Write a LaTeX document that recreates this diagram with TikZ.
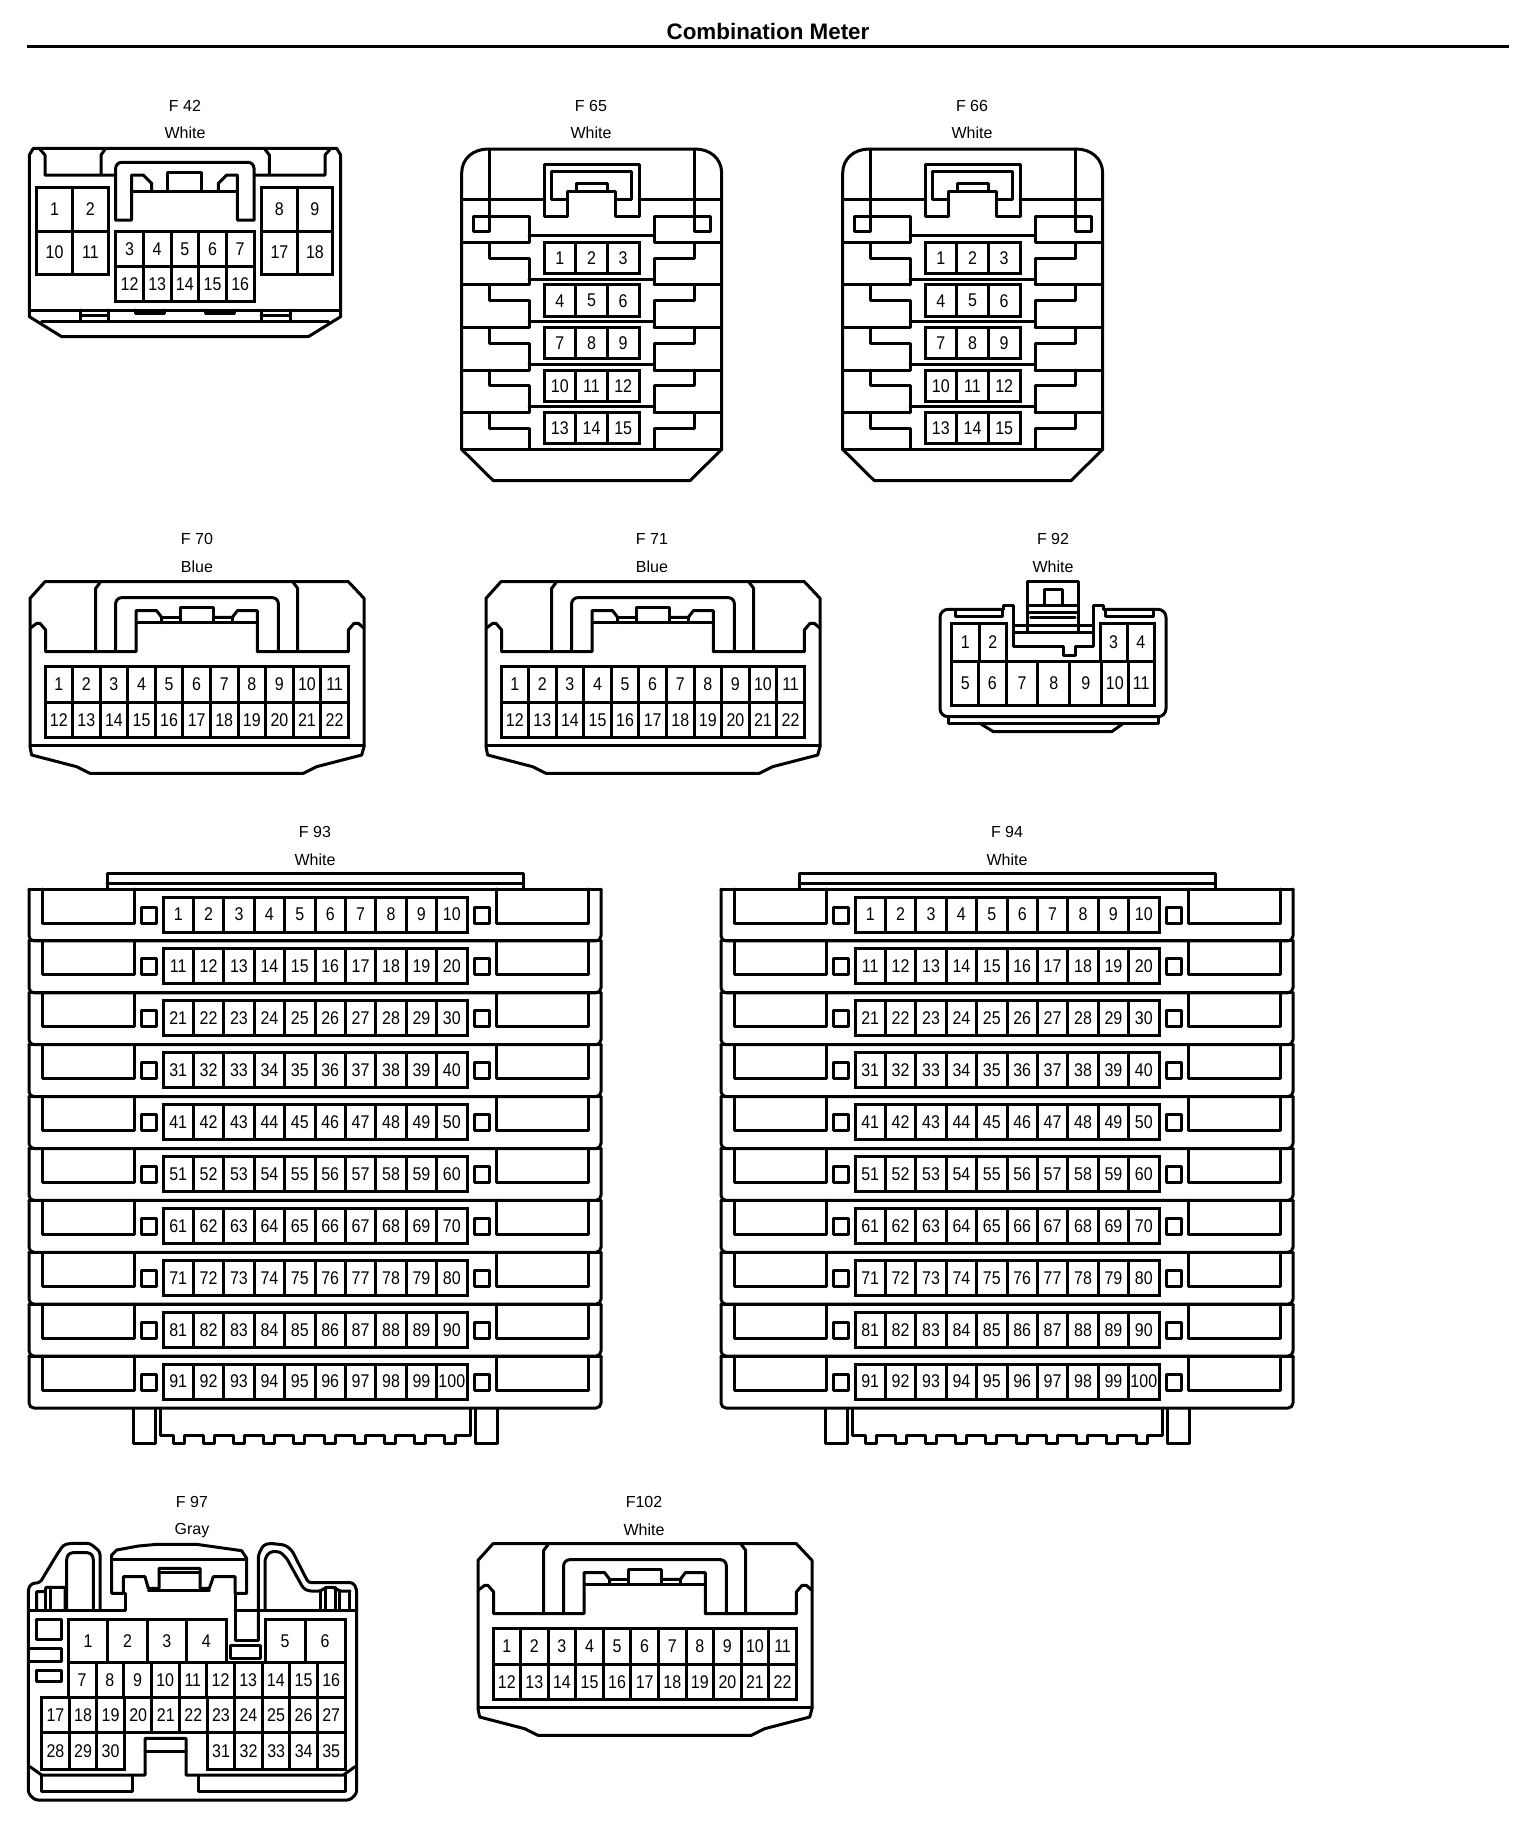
\documentclass[tikz,border=0pt]{standalone}
\usepackage{fontspec}
\setmainfont{Liberation Sans}
\newfontfamily\pinfont[FakeStretch=0.87]{Liberation Sans}
\def\zu{0.166667pt}
\tikzset{
  wire/.style={line width=1.5pt,line join=round,line cap=round,draw=black},
  pinbox/.style={line width=1.5pt,line join=miter,draw=black},
  pinlabel/.style={inner sep=0pt,font=\pinfont\fontsize{9.2}{10}\selectfont},
  caplabel/.style={inner sep=0pt,font=\fontsize{8}{9}\selectfont},
  titlelabel/.style={inner sep=0pt,font=\fontsize{11.2}{13}\selectfont\bfseries},
}
% prefix, x0, x1, n, ytop, ybot, first number
\newcommand{\pinrow}[7]{%
  \pgfmathsetmacro\mypw{(#3-#2)/#4}%
  \pgfmathsetmacro\myym{(#5+#6)/2}%
  \draw[pinbox] (#2,#5) rectangle (#3,#6);
  \foreach \i in {1,...,#4}{%
    \pgfmathsetmacro\myxa{#2+(\i-1)*\mypw}%
    \pgfmathsetmacro\myxm{\myxa+\mypw/2}%
    \pgfmathtruncatemacro\mynum{#7+\i-1}%
    \ifnum\i>1 \draw[pinbox] (\myxa,#5)--(\myxa,#6);\fi
    \node[pinlabel] (#1-\mynum) at (\myxm,\myym) {\mynum};
  }%
}
% 15-pin stacked connector
\newcommand{\connStack}[1]{%
\begin{scope}[shift={(440,90)},x=\zu,y=-\zu]
  \draw[wire] (65,1078) -- (65,250) .. controls (65,205) and (100,177) .. (145,177) -- (765,177) .. controls (810,177) and (845,205) .. (845,250) -- (845,1078) -- (750,1172) -- (160,1172) -- cycle;
  \draw[wire] (65,1078)--(845,1078);
  \draw[wire] (148,177)--(148,425)--(100,425)--(100,378)--(267,378)--(267,457)--(65,457);
  \draw[wire] (762,177)--(762,425)--(810,425)--(810,378)--(642,378)--(642,457)--(845,457);
  \draw[wire] (65,327)--(312,327);
  \draw[wire] (597,327)--(845,327);
  \draw[wire] (312,222)--(597,222)--(597,378)--(527,378)--(527,305)--(382,305)--(382,378)--(312,378)--cycle;
  \draw[wire] (382,327)--(335,327)--(335,245)--(573,245)--(573,327)--(527,327);
  \draw[wire] (408,305)--(408,280)--(503,280)--(503,305);
  \draw[wire] (267,437)--(642,437);
  \foreach \y/\ny in {457/584,584/712,712/840,840/967,967/1078}{
    \draw[wire] (148,\y)--(148,\y+47)--(267,\y+47)--(267,\ny);
    \draw[wire] (762,\y)--(762,\y+47)--(642,\y+47)--(642,\ny);
  }
  \foreach \ny in {584,712,840,967}{
    \draw[wire] (65,\ny)--(267,\ny);
    \draw[wire] (642,\ny)--(845,\ny);
    \draw[wire] (267,\ny-17)--(642,\ny-17);
  }
  \pinrow{#1}{312}{597}{3}{457}{550}{1}
  \pinrow{#1}{312}{597}{3}{584}{680}{4}
  \pinrow{#1}{312}{597}{3}{712}{805}{7}
  \pinrow{#1}{312}{597}{3}{840}{935}{10}
  \pinrow{#1}{312}{597}{3}{967}{1060}{13}
\end{scope}}
% 22-pin connector
\newcommand{\connWide}[1]{%
\begin{scope}[shift={(0,520)},x=\zu,y=-\zu]
  \draw[wire] (90,235)--(135,185)--(1045,185)--(1092,235)--(1092,680)--(1085,705)--(950,740)--(910,760)--(270,760)--(230,740)--(95,705)--(90,680)--cycle;
  \draw[wire] (90,675)--(1092,675);
  \draw[wire] (90,325)--(110,310)--(120,310)--(137,330)--(137,395)--(408,395)--(408,272)--(470,272)--(485,292)--(485,308);
  \draw[wire] (408,308)--(772,308);
  \draw[wire] (485,292)--(540,292);
  \draw[wire] (540,308)--(540,262)--(640,262)--(640,308);
  \draw[wire] (640,292)--(697,292)--(712,272)--(772,272)--(772,395)--(1045,395)--(1045,330)--(1062,310)--(1075,310)--(1092,325);
  \draw[wire] (697,292)--(697,308);
  \draw[wire] (287,395)--(287,205)--(300,188);
  \draw[wire] (893,395)--(893,205)--(880,188);
  \draw[wire,rounded corners=3pt] (347,395)--(347,233)--(835,233)--(835,395);
  \draw[wire] (772,395)--(1045,395);
  \pinrow{#1}{135}{1045}{11}{440}{547}{1}
  \pinrow{#1}{135}{1045}{11}{547}{653}{12}
\end{scope}}
% 100-pin connector
\newcommand{\connLarge}[1]{%
  \draw[wire] (107,888)--(107,873)--(523,873)--(523,888);
  \draw[wire] (107,883)--(523,883);
  \foreach \r in {0,...,9}{
    \pgfmathsetmacro\rtop{889+51.9*\r}
    \pgfmathsetmacro\rbot{\rtop+51.9}
    \pgfmathsetmacro\rpk{\rtop+34}
    \pgfmathsetmacro\rsa{\rtop+18}
    \pgfmathsetmacro\rsb{\rtop+34}
    \pgfmathsetmacro\rga{\rtop+8}
    \pgfmathsetmacro\rgb{\rtop+43}
    \pgfmathtruncatemacro\rnum{10*\r+1}
    \draw[wire] (29,\rtop)--(601,\rtop);
    \draw[wire,rounded corners=2.5pt] (29,\rtop)--(29,\rbot)--(601,\rbot)--(601,\rtop);
    \draw[wire] (42,\rtop)--(42,\rpk)--(134,\rpk)--(134,\rtop);
    \draw[wire] (588,\rtop)--(588,\rpk)--(496,\rpk)--(496,\rtop);
    \draw[wire] (141,\rsa) rectangle (156,\rsb);
    \draw[wire] (474,\rsa) rectangle (489,\rsb);
    \pinrow{#1}{163}{467}{10}{\rga}{\rgb}{\rnum}
  }
  \draw[wire] (133,1409)--(133,1443)--(155,1443)--(155,1409);
  \draw[wire] (475,1409)--(475,1443)--(497,1443)--(497,1409);
  \draw[wire] (160,1409)--(160,1435)
     \foreach \i in {0,...,9}{ --({173+30.2*\i},1435)--({173+30.2*\i},1443)--({184+30.2*\i},1443)--({184+30.2*\i},1435) }
     --(470,1435)--(470,1409);
}
\begin{document}
\begin{tikzpicture}[x=0.5pt,y=-0.5pt]
\path[fill=white,use as bounding box] (0,0) rectangle (1536,1826);
% title
\node[titlelabel] (title) at (768,31) {Combination Meter};
\coordinate (ruleL) at (27,46);
\coordinate (ruleR) at (1509,46);
\draw[line width=1.5pt] (ruleL)--(ruleR);
% captions
\node[caplabel] (capF42) at (185,106) {F 42};
\node[caplabel] (colF42) at (185,133) {White};
\node[caplabel] (capF65) at (591,106) {F 65};
\node[caplabel] (colF65) at (591,133) {White};
\node[caplabel] (capF66) at (972,106) {F 66};
\node[caplabel] (colF66) at (972,133) {White};
\node[caplabel] (capF70) at (197,539) {F 70};
\node[caplabel] (colF70) at (197,567) {Blue};
\node[caplabel] (capF71) at (652,539) {F 71};
\node[caplabel] (colF71) at (652,567) {Blue};
\node[caplabel] (capF92) at (1053,539) {F 92};
\node[caplabel] (colF92) at (1053,567) {White};
\node[caplabel] (capF93) at (315,832) {F 93};
\node[caplabel] (colF93) at (315,860) {White};
\node[caplabel] (capF94) at (1007,832) {F 94};
\node[caplabel] (colF94) at (1007,860) {White};
\node[caplabel] (capF97) at (192,1502) {F 97};
\node[caplabel] (colF97) at (192,1531) {Gray};
\node[caplabel] (capF102) at (644,1502) {F102};
\node[caplabel] (colF102) at (644,1530) {White};
% F42
\begin{scope}[shift={(0,80)},x=\zu,y=-\zu]
  \draw[wire] (88,225)--(100,205)--(1010,205)--(1022,225)--(1022,710)--(925,770)--(185,770)--(88,710)--cycle;
  \draw[wire] (88,690)--(1022,690);
  \draw[wire] (125,725)--(985,725);
  \draw[wire] (120,208)--(135,225)--(135,285)--(347,285);
  \draw[wire] (303,285)--(303,225)--(315,208);
  \draw[wire] (795,208)--(808,225)--(808,285)--(762,285);
  \draw[wire] (808,285)--(975,285)--(975,225)--(990,208);
  \draw[wire,rounded corners=3pt] (347,420)--(347,247)--(762,247)--(762,420);
  \draw[wire] (762,420)--(712,420)--(712,285)--(680,285)--(655,310)--(655,335);
  \draw[wire] (347,420)--(395,420)--(395,285)--(430,285)--(455,310)--(455,335);
  \draw[wire] (395,335)--(712,335);
  \draw[wire] (503,335)--(503,278)--(605,278)--(605,335);
  \draw[wire] (242,690)--(242,725);
  \draw[wire] (325,690)--(325,725);
  \draw[wire] (242,705)--(325,705);
  \draw[wire] (783,690)--(783,725);
  \draw[wire] (870,690)--(870,725);
  \draw[wire] (783,705)--(870,705);
  \draw[wire] (405,690)--(405,700)--(492,700)--(492,690);
  \draw[wire] (617,690)--(617,700)--(702,700)--(702,690);
  \pinrow{F42}{110}{325}{2}{322}{453}{1}
  \pinrow{F42}{110}{325}{2}{453}{582}{10}
  \pinrow{F42}{785}{998}{2}{322}{453}{8}
  \pinrow{F42}{785}{998}{2}{453}{582}{17}
  \pinrow{F42}{347}{762}{5}{455}{558}{3}
  \pinrow{F42}{347}{762}{5}{558}{665}{12}
\end{scope}
% F65 F66
\connStack{F65}
\begin{scope}[shift={(381,0)}]\connStack{F66}\end{scope}
% F70 F71 F102
\connWide{F70}
\begin{scope}[shift={(456,0)}]\connWide{F71}\end{scope}
\begin{scope}[shift={(448,962)}]\connWide{F102}\end{scope}
% F92
\begin{scope}[shift={(920,520)},x=\zu,y=-\zu]
  \draw[wire,rounded corners=4pt] (250,268)--(60,268)--(60,590)--(738,590)--(738,268)--(550,268);
  \draw[wire] (250,268)--(250,255)--(280,255)--(280,380)--(430,380)--(430,405)--(465,405)--(465,380)--(520,380)--(520,255)--(550,255)--(550,268);
  \draw[wire] (85,590)--(85,610)--(715,610)--(715,590);
  \draw[wire] (180,610)--(220,635)--(575,635)--(610,610);
  \draw[wire] (105,270)--(105,290)--(248,290)--(248,270);
  \draw[wire] (555,270)--(555,290)--(700,290)--(700,270);
  \draw[wire] (322,338)--(322,185)--(475,185)--(475,338);
  \draw[wire] (372,255)--(372,208)--(428,208)--(428,255);
  \draw[wire] (322,255)--(475,255);
  \draw[wire] (322,278)--(475,278);
  \draw[wire] (332,292)--(465,292);
  \draw[wire] (280,315)--(520,315);
  \draw[wire] (280,338)--(520,338);
  \pinrow{F92}{95}{260}{2}{310}{425}{1}
  \pinrow{F92}{540}{703}{2}{310}{425}{3}
  \pinrow{F92}{95}{258}{2}{425}{555}{5}
  \pinrow{F92}{258}{545}{3}{425}{555}{7}
  \pinrow{F92}{545}{703}{2}{425}{555}{10}
\end{scope}
% F93 F94
\connLarge{F93}
\begin{scope}[shift={(692,0)}]\connLarge{F94}\end{scope}
% F97
\begin{scope}[shift={(10,1480)},x=\zu,y=-\zu]
  \draw[wire,rounded corners=1.5pt] (270,390)--(270,215)--(240,190)--(180,190)--(160,195)--(140,225)--(90,308)--(65,310)--(55,325)--(55,940)--(75,960)--(1020,960)--(1040,940)--(1040,328)--(1030,308)--(895,308)--(845,210)--(825,195)--(780,190)--(760,195)--(745,225)--(745,480);
  \draw[wire,rounded corners=1.5pt] (170,390)--(170,230)--(180,218)--(240,218)--(250,230)--(250,390);
  \draw[wire,rounded corners=1.5pt] (765,390)--(765,235)--(780,215)--(810,215)--(830,235)--(880,325)--(895,333)--(935,333)--(945,322)--(975,322)--(985,333)--(1020,333);
  \draw[wire] (80,390)--(80,335)--(105,335)--(108,322)--(165,322)--(165,390);
  \draw[wire] (105,335)--(105,390);
  \draw[wire] (120,322)--(120,390);
  \draw[wire] (932,390)--(932,333);
  \draw[wire] (945,322)--(945,390);
  \draw[wire] (975,322)--(975,390);
  \draw[wire] (988,333)--(988,390);
  \draw[wire] (1018,333)--(1018,390);
  \draw[wire] (55,390)--(345,390)--(345,340);
  \draw[wire] (675,340)--(675,480)--(745,480);
  \draw[wire] (675,390)--(1040,390);
  \draw[wire] (305,225)--(320,210)--(385,198)--(440,193)--(560,193)--(695,212)--(710,235)--(710,340)--(675,340)--(675,290)--(610,290)--(598,325)--(570,325)--(570,265)--(447,265)--(447,325)--(415,325)--(405,290)--(340,290)--(340,340)--(305,340)--cycle;
  \draw[wire] (305,238)--(710,238);
  \draw[wire] (447,278)--(570,278);
  \draw[wire] (415,332)--(598,332);
  \draw[wire] (662,495) rectangle (750,535);
  \draw[wire] (80,418) rectangle (155,478);
  \draw[wire] (55,505)--(155,505)--(155,545)--(55,545);
  \draw[wire] (80,570) rectangle (155,605);
  \draw[wire] (60,860)--(95,885)--(405,885)--(405,775)--(528,775)--(528,885)--(1000,885)--(1035,860);
  \draw[wire] (405,815)--(528,815);
  \draw[wire] (95,885)--(95,935)--(366,935)--(366,885);
  \draw[wire] (565,885)--(565,935)--(1005,935)--(1005,885);
  \pinrow{F97}{175}{648}{4}{418}{548}{1}
  \pinrow{F97}{765}{1005}{2}{418}{548}{5}
  \pinrow{F97}{175}{1005}{10}{548}{652}{7}
  \pinrow{F97}{95}{1005}{11}{652}{758}{17}
  \pinrow{F97}{95}{343}{3}{758}{868}{28}
  \pinrow{F97}{592}{1005}{5}{758}{868}{31}
\end{scope}
\end{tikzpicture}
\end{document}
